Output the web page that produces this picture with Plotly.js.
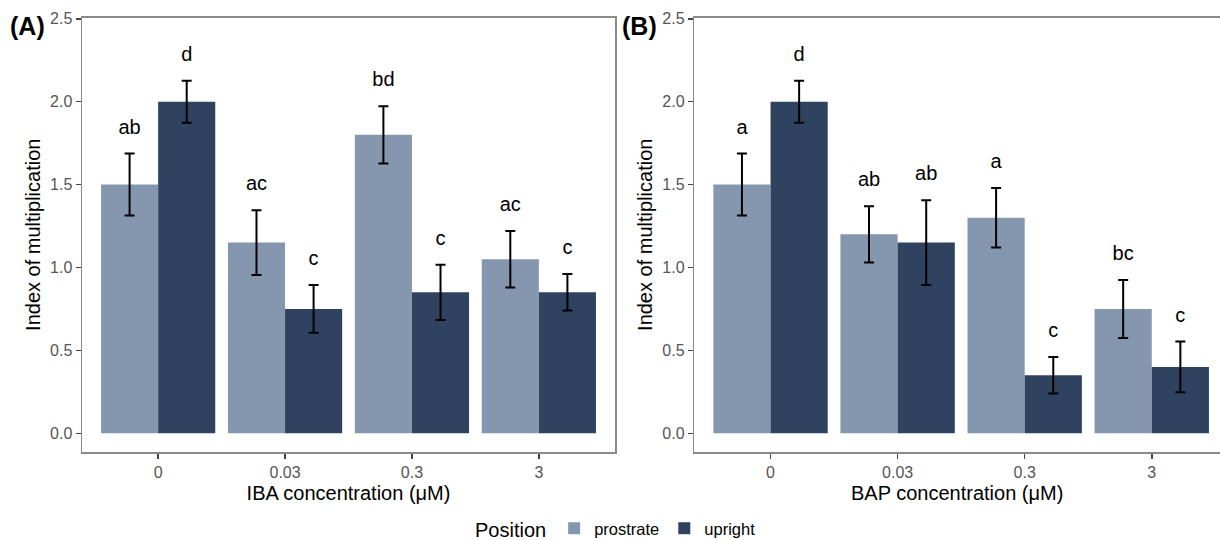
<!DOCTYPE html>
<html>
<head>
<meta charset="utf-8">
<script src="https://cdn.plot.ly/plotly-3.0.1.min.js"></script>
<style>html,body{margin:0;padding:0;background:#fff}#chart{width:1220px;height:540px}</style>
</head>
<body>
<div id="chart"></div>
<script>
// Data
var concentrations = ["0", "0.03", "0.3", "3"];
var ibaProstrate = [1.50, 1.15, 1.80, 1.05];
var ibaProstrateSE = [0.187, 0.195, 0.172, 0.170];
var ibaUpright = [2.00, 0.75, 0.85, 0.85];
var ibaUprightSE = [0.127, 0.144, 0.166, 0.110];
var ibaProstrateLetters = ["ab", "ac", "bd", "ac"];
var ibaUprightLetters = ["d", "c", "c", "c"];

var bapProstrate = [1.50, 1.20, 1.30, 0.75];
var bapProstrateSE = [0.187, 0.170, 0.180, 0.175];
var bapUpright = [2.00, 1.15, 0.35, 0.40];
var bapUprightSE = [0.127, 0.255, 0.110, 0.153];
var bapProstrateLetters = ["a", "ab", "a", "bc"];
var bapUprightLetters = ["d", "ab", "c", "c"];

var colProstrate = "#8497AF";
var colUpright = "#2F4360";
var idx = concentrations.map(function(_, i){ return i; });
var font = "Liberation Sans, Arial, sans-serif";

function bar(name, y, se, color, xa, ya, showlegend) {
  return {
    type: "bar", name: name, x: idx, y: y,
    xaxis: xa, yaxis: ya, showlegend: showlegend, legendgroup: name,
    marker: {color: color, line: {width: 0}},
    error_y: {type: "data", array: se, visible: true, color: "#000", thickness: 2, width: 5}
  };
}
function letters(y, se, labels, offset, xa, ya) {
  return {
    type: "scatter", mode: "text", showlegend: false, hoverinfo: "skip",
    x: idx.map(function(i){ return i + offset; }),
    y: y.map(function(v, i){ return v + se[i] + 0.15; }),
    text: labels, textposition: "middle center",
    textfont: {family: font, size: 20, color: "#000"},
    xaxis: xa, yaxis: ya, cliponaxis: false
  };
}

var traces = [
  bar("prostrate", ibaProstrate, ibaProstrateSE, colProstrate, "x", "y", true),
  bar("upright", ibaUpright, ibaUprightSE, colUpright, "x", "y", true),
  bar("prostrate", bapProstrate, bapProstrateSE, colProstrate, "x2", "y2", false),
  bar("upright", bapUpright, bapUprightSE, colUpright, "x2", "y2", false),
  letters(ibaProstrate, ibaProstrateSE, ibaProstrateLetters, -0.225, "x", "y"),
  letters(ibaUpright, ibaUprightSE, ibaUprightLetters, 0.225, "x", "y"),
  letters(bapProstrate, bapProstrateSE, bapProstrateLetters, -0.225, "x2", "y2"),
  letters(bapUpright, bapUprightSE, bapUprightLetters, 0.225, "x2", "y2")
];

var W = 1220, H = 540;
var domTop = 1 - 17.5 / H, domBottom = 1 - 452 / H;
function xax(domain, range, title, anchor) {
  return {
    domain: domain, range: range, anchor: anchor,
    tickvals: idx, ticktext: concentrations,
    showgrid: false, zeroline: false,
    showline: true, linecolor: "#8a8a8a", linewidth: 1.5, mirror: true,
    ticks: "outside", ticklen: 5, tickwidth: 1.5, tickcolor: "#444",
    tickfont: {family: font, size: 16, color: "#555"},
    title: {text: title, font: {family: font, size: 20, color: "#000"}, standoff: 6}
  };
}
function yax(anchor, mirror) {
  return {
    domain: [domBottom, domTop], range: [-0.113, 2.508], anchor: anchor,
    tickvals: [0, 0.5, 1, 1.5, 2, 2.5], tickformat: ".1f",
    showgrid: false, zeroline: false,
    showline: true, linecolor: "#8a8a8a", linewidth: 1.5, mirror: mirror,
    ticks: "outside", ticklen: 5, tickwidth: 1.5, tickcolor: "#444",
    tickfont: {family: font, size: 16, color: "#555"},
    title: {text: "Index of multiplication", font: {family: font, size: 20, color: "#000"}, standoff: 4}
  };
}

var layout = {
  width: W, height: H,
  margin: {l: 0, r: 0, t: 0, b: 0, autoexpand: false},
  paper_bgcolor: "#fff", plot_bgcolor: "#fff",
  barmode: "group", bargap: 0.1, bargroupgap: 0,
  font: {family: font},
  xaxis: xax([82 / W, 615 / W], [-0.6, 3.6], "IBA concentration (μM)", "y"),
  yaxis: yax("x", true),
  xaxis2: xax([694.3 / W, 1], [-0.6, 3.537], "BAP concentration (μM)", "y2"),
  yaxis2: yax("x2", false),
  showlegend: true,
  legend: {
    orientation: "h", xref: "paper", yref: "paper",
    x: 473 / W, xanchor: "left", y: 1 - 529 / H, yanchor: "middle",
    title: {text: "Position", font: {family: font, size: 20, color: "#000"}, side: "left"},
    font: {family: font, size: 16.5, color: "#000"},
    itemwidth: 30, traceorder: "normal"
  },
  annotations: [
    {text: "<b>(A)</b>", xref: "paper", yref: "paper", x: 8 / W, y: 1 - 26 / H, xanchor: "left", yanchor: "middle", showarrow: false, font: {family: font, size: 25, color: "#000"}},
    {text: "<b>(B)</b>", xref: "paper", yref: "paper", x: 620 / W, y: 1 - 26 / H, xanchor: "left", yanchor: "middle", showarrow: false, font: {family: font, size: 25, color: "#000"}}
  ]
};
Plotly.newPlot("chart", traces, layout, {displayModeBar: false, staticPlot: true});
</script>
</body>
</html>
